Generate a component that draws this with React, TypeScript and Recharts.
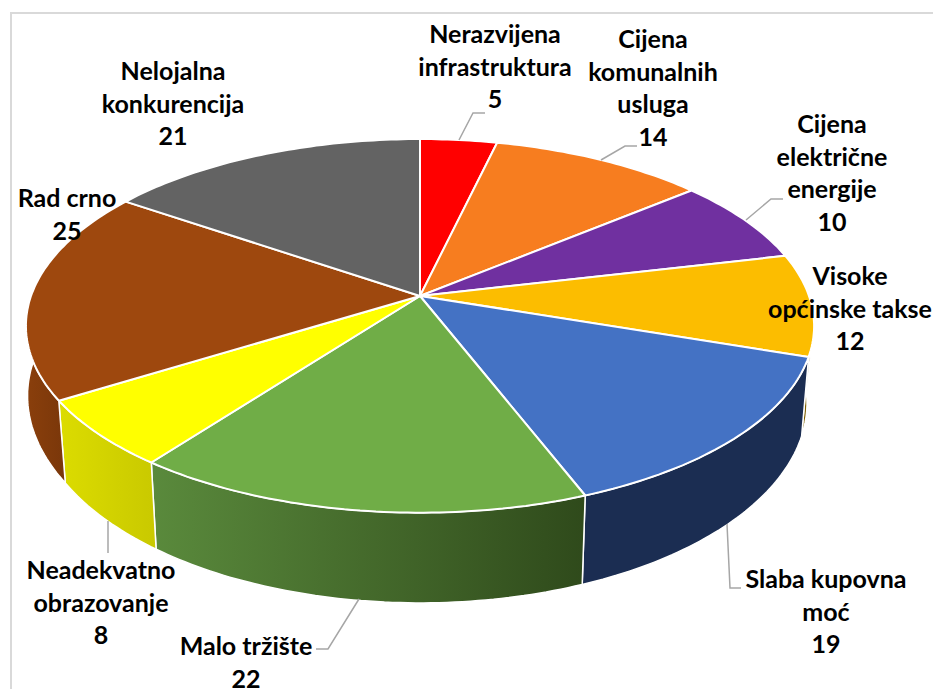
import { PieChart, Pie } from "recharts";

const categories = [
  "Nerazvijena infrastruktura",
  "Cijena komunalnih usluga",
  "Cijena električne energije",
  "Visoke općinske takse",
  "Slaba kupovna moć",
  "Malo tržište",
  "Neadekvatno obrazovanje",
  "Rad crno",
  "Nelojalna konkurencija",
];
const values = [5, 14, 10, 12, 19, 22, 8, 25, 21];

const labelLines = [
  ["Nerazvijena", "infrastruktura"],
  ["Cijena", "komunalnih", "usluga"],
  ["Cijena", "električne", "energije"],
  ["Visoke", "općinske takse"],
  ["Slaba kupovna", "moć"],
  ["Malo tržište"],
  ["Neadekvatno", "obrazovanje"],
  ["Rad crno"],
  ["Nelojalna", "konkurencija"],
];

const topColors = ["#ff0000", "#f77d1f", "#7030a0", "#fcbd00", "#4472c4", "#70ad47", "#ffff00", "#9e480e", "#636363"];
const wallFrom = ["#990000", "#95490f", "#431c60", "#7f6000", "#1b2d52", "#5a8a3c", "#dcdc00", "#8a3f0c", "#3b3b3b"];
const wallTo = ["#990000", "#95490f", "#431c60", "#7f6000", "#1b2d52", "#2f4a1b", "#c9c900", "#7a370a", "#3b3b3b"];

// label centre x and first baseline, then leader line points
const labelPos: [number, number][] = [
  [495, 43], [653, 48], [832, 133], [850, 285], [826, 588], [246, 655], [101, 579], [67, 207], [173, 80],
];
const leaders: ([number, number][] | null)[] = [
  [[459, 140], [473, 113], [485, 113]],
  [[601, 160], [625, 146], [637, 146]],
  [[746, 220], [771, 199], [783, 199]],
  null,
  [[727, 524], [730, 588], [741, 588]],
  [[359, 599], [328, 649], [316, 649]],
  [[108, 521], [108, 553]],
  null,
  null,
];

const data = categories.map((name, i) => ({ name, value: values[i] }));

const LINE_HEIGHT = 32.6;
const FONT = "Lato, sans-serif";

// the disc is a tilted circle, so angles go through a small perspective map
function project(cx: number, cy: number, r: number, deg: number, bottom = false) {
  const t = (deg * Math.PI) / 180;
  const u = Math.sin(t);
  const v = -Math.cos(t);
  const d = 1 - 0.16 * v;
  let x = (r * u) / d;
  let y = (r * 0.468 * v) / d;
  if (bottom) {
    // lower rim sits a bit further out on the left side
    x *= u < 0 && v < 0.53 ? 0.982 + 0.019 * (1 - v / 0.53) : 0.982;
    y = y * 1.07 + 75;
  }
  return [cx + x, cy + y];
}

function arcPoints(cx: number, cy: number, r: number, a: number, b: number, bottom = false) {
  const pts: number[][] = [];
  const n = Math.max(2, Math.ceil(Math.abs(b - a)));
  for (let i = 0; i <= n; i++) pts.push(project(cx, cy, r, a + ((b - a) * i) / n, bottom));
  return pts;
}

const toPath = (pts: number[][]) =>
  "M" + pts.map((p) => `${p[0].toFixed(1)},${p[1].toFixed(1)}`).join("L") + "Z";

function Slice(props: any) {
  const { cx, cy, outerRadius, startAngle, endAngle, index } = props;
  const a = 90 - startAngle;
  const b = 90 - endAngle;
  const wa = Math.max(a, 97);
  const wb = Math.min(b, 277);
  const top = toPath([[cx, cy], ...arcPoints(cx, cy, outerRadius, a, b)]);
  return (
    <g>
      <defs>
        <linearGradient id={`wall${index}`} x1="0" y1="0" x2="1" y2="0">
          <stop offset="0%" stopColor={wallFrom[index]} />
          <stop offset="100%" stopColor={wallTo[index]} />
        </linearGradient>
      </defs>
      {wb > wa && (
        <path
          d={toPath([
            ...arcPoints(cx, cy, outerRadius, wa, wb),
            ...arcPoints(cx, cy, outerRadius, wb, wa, true),
          ])}
          fill={`url(#wall${index})`}
          stroke="#ffffff"
          strokeWidth={1.5}
          strokeLinejoin="round"
        />
      )}
      <path d={top} fill={topColors[index]} stroke="#ffffff" strokeWidth={2} strokeLinejoin="round" />
    </g>
  );
}

function SliceLabel(props: any) {
  const { index } = props;
  const [x, y] = labelPos[index];
  const lines = [...labelLines[index], String(values[index])];
  return (
    <text x={x} y={y} textAnchor="middle" fontFamily={FONT} fontWeight={700} fontSize={25} fill="#000000">
      {lines.map((line, i) => (
        <tspan key={i} x={x} y={y + i * LINE_HEIGHT}>
          {line}
        </tspan>
      ))}
    </text>
  );
}

function LeaderLine(props: any) {
  const pts = leaders[props.index];
  if (!pts) return <g />;
  return <polyline points={pts.map((p) => p.join(",")).join(" ")} fill="none" stroke="#a6a6a6" strokeWidth={1.5} />;
}

export default function App() {
  return (
    <div style={{ position: "absolute", left: 0, top: 0, width: 933, height: 689, overflow: "hidden", background: "#ffffff" }}>
      <div
        style={{
          position: "absolute",
          left: 10,
          top: 12,
          width: 940,
          height: 700,
          borderLeft: "2px solid #d9d9d9",
          borderTop: "2px solid #d9d9d9",
        }}
      />
      <div style={{ position: "absolute", left: 0, top: 0 }}>
        <PieChart width={933} height={689} margin={{ top: 0, right: 0, bottom: 0, left: 0 }}>
          <Pie
            data={data}
            dataKey="value"
            nameKey="name"
            cx={420}
            cy={296}
            innerRadius={0}
            outerRadius={389}
            startAngle={90}
            endAngle={-270}
            shape={Slice}
            label={SliceLabel}
            labelLine={LeaderLine}
            isAnimationActive={false}
            rootTabIndex={-1}
          />
        </PieChart>
      </div>
    </div>
  );
}
